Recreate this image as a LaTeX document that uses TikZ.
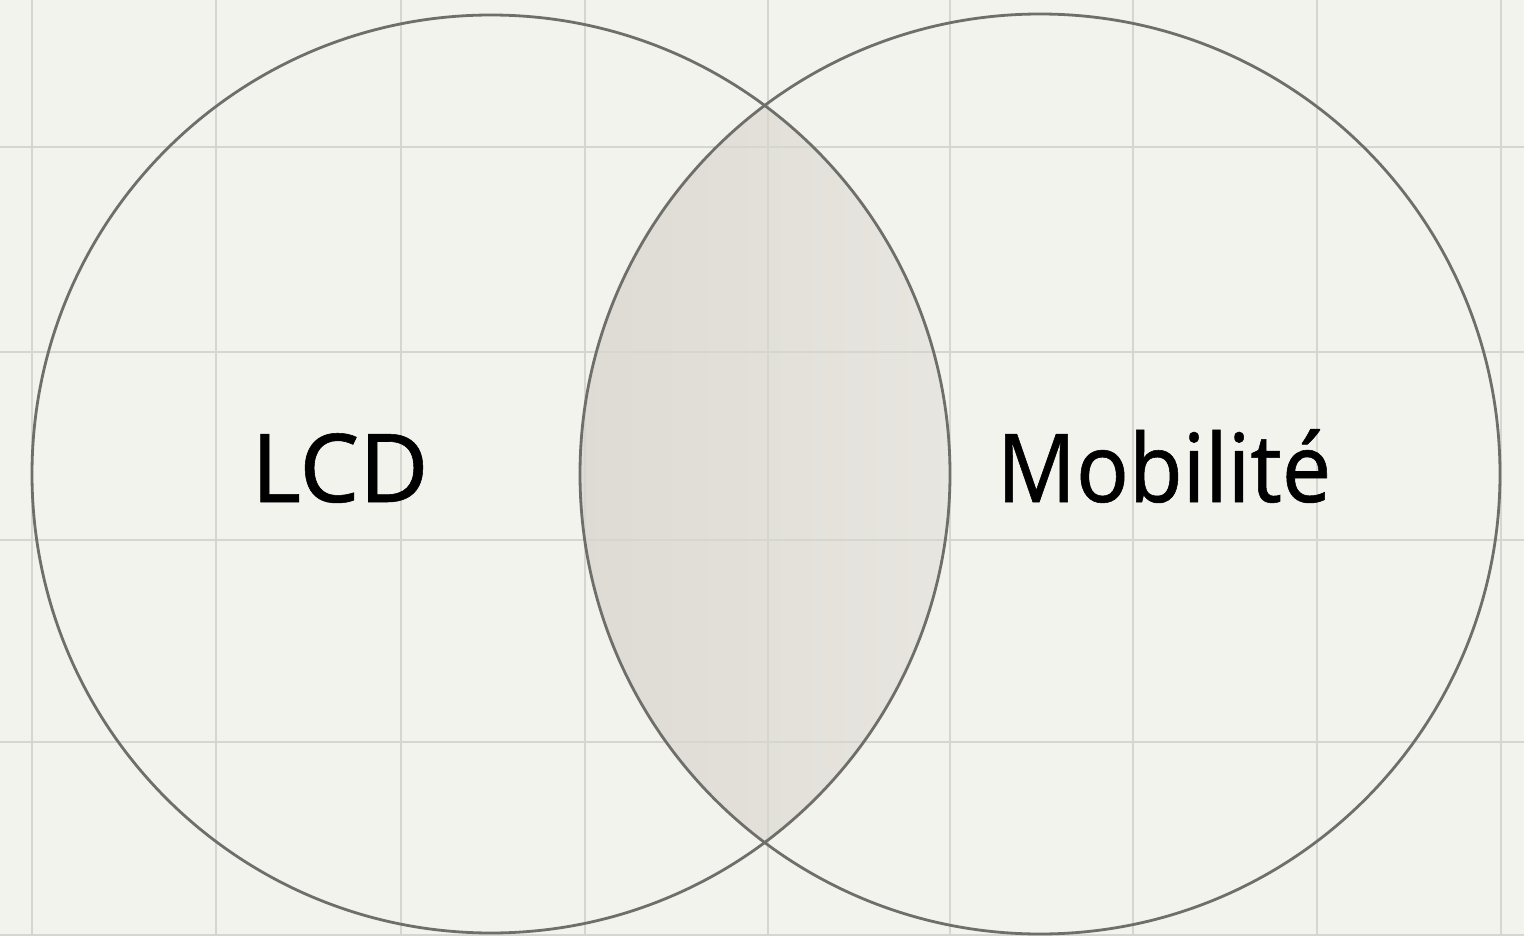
\documentclass[tikz,border=0pt]{standalone}
\usepackage{fontspec}
\setmainfont{Noto Sans}[FakeBold=0.6]
\usetikzlibrary{shadings}
\definecolor{paper}{HTML}{F3F3EE}
\definecolor{gridc}{HTML}{D6D6D0}
\definecolor{ringc}{HTML}{6E6E6A}
\definecolor{lensL}{HTML}{DEDAD4}
\definecolor{lensR}{HTML}{E8E6E0}
\tikzset{
  gridline/.style={draw=gridc, line width=1.8pt},
  ring/.style={circle, draw=ringc, line width=2.8pt, inner sep=0pt},
  label/.style={anchor=base, inner sep=0pt, font=\fontsize{95}{100}\selectfont, text=black}
}
\begin{document}
\begin{tikzpicture}[x=1pt,y=-1pt]
\useasboundingbox (0,0) rectangle (1524,936);
\fill[paper] (0,0) rectangle (1524,936);
% lens
\begin{scope}
  \clip (491,474) circle (459);
  \clip (1040,474) circle (460);
  \shade[left color=lensL, right color=lensR] (575,100) rectangle (955,850);
\end{scope}
% grid
\foreach \x in {32,216,401,585,768,950,1133,1317,1501}
  \draw[gridline] (\x,0) -- (\x,936);
\foreach \y in {147,352,540,742,935}
  \draw[gridline] (0,\y) -- (1524,\y);
% circles
\node[ring, minimum size=918pt] (lcd) at (491,474) {};
\node[ring, minimum size=920pt] (mob) at (1040,474) {};
% labels
\node[label] (tlcd) at (340,502) {\scalebox{1.0}[1]{LCD}};
\node[label] (tmob) at (1164,502) {\scalebox{0.92}[1]{Mobilité}};
\end{tikzpicture}
\end{document}
